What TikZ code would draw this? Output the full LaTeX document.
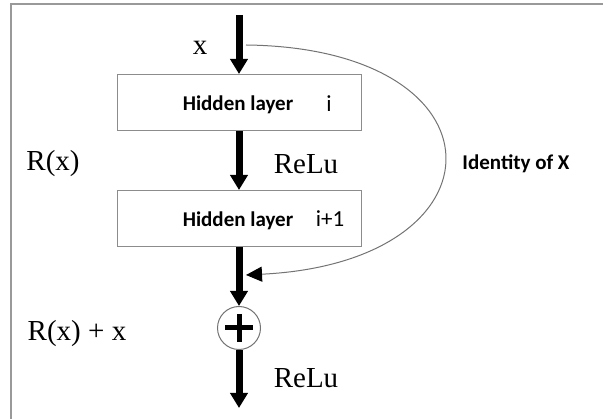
\documentclass[tikz,border=0pt]{standalone}
\usepackage{fontspec}
\setmainfont{Liberation Serif}
\newfontfamily\carl{Carlito}
\usetikzlibrary{arrows.meta}
\tikzset{
  thick arrow/.style={line width=7pt,-{Triangle[width=17pt 0 0,length=15pt 0 0]}},
  layerbox/.style={draw=black!45,line width=1pt,minimum width=244pt,minimum height=56pt,inner sep=0pt},
  serif label/.style={font=\fontsize{29}{31}\selectfont,inner sep=0pt},
  sans label/.style={font=\carl\bfseries\fontsize{21}{23}\selectfont,inner sep=0pt},
  index label/.style={font=\carl\fontsize{23}{25}\selectfont,inner sep=0pt},
  frame/.style={draw=black!40,line width=1.5pt}
}
\begin{document}
\begin{tikzpicture}[x=1pt,y=-1pt]
\useasboundingbox (0,0) rectangle (603,419);
\draw[frame] (11,419) -- (11,4) -- (603,4);
% boxes
\node[layerbox] (h1) at (239,102.5) {};
\node[layerbox] (h2) at (239,218.5) {};
\node[sans label] (t1) at (238,105) {Hidden layer};
\node[index label] (i1) at (329,104) {i};
\node[sans label] (t2) at (238,221) {Hidden layer};
\node[index label] (i2) at (330,219) {i+1};
% plus
\node[circle,draw=black!55,line width=1pt,minimum size=43pt,inner sep=0pt] (plus) at (239,328) {};
\draw[line width=5pt] (plus.center) ++(-14,0) -- ++(28,0);
\draw[line width=5pt] (plus.center) ++(0,-14) -- ++(0,28);
% coordinates
\coordinate (top) at (239,15);
\coordinate (bottom) at (239,408);
\coordinate (skip) at (246,45);
\coordinate (join) at (246,275);
% arrows
\draw[thick arrow] (top) -- (h1.north);
\draw[thick arrow] (h1.south) -- (h2.north);
\draw[thick arrow] (h2.south) -- (plus.north);
\draw[thick arrow] (plus.south) -- (bottom);
% identity curve
\draw[black!55,line width=1pt,-{Triangle[width=15pt 0 0,length=16pt 0 0,color=black]}]
  (skip) .. controls (510,48) and (510,262) .. (join);
% labels
\node[serif label] (x) at (200,48) {x};
\node[serif label] (rx) at (53,164) {R(x)};
\node[serif label] (relu1) at (306,164) {ReLu};
\node[sans label] (id) at (516,164) {Identity of X};
\node[serif label] (rxx) at (77,334) {R(x) + x};
\node[serif label] (relu2) at (306,378) {ReLu};
\end{tikzpicture}
\end{document}
